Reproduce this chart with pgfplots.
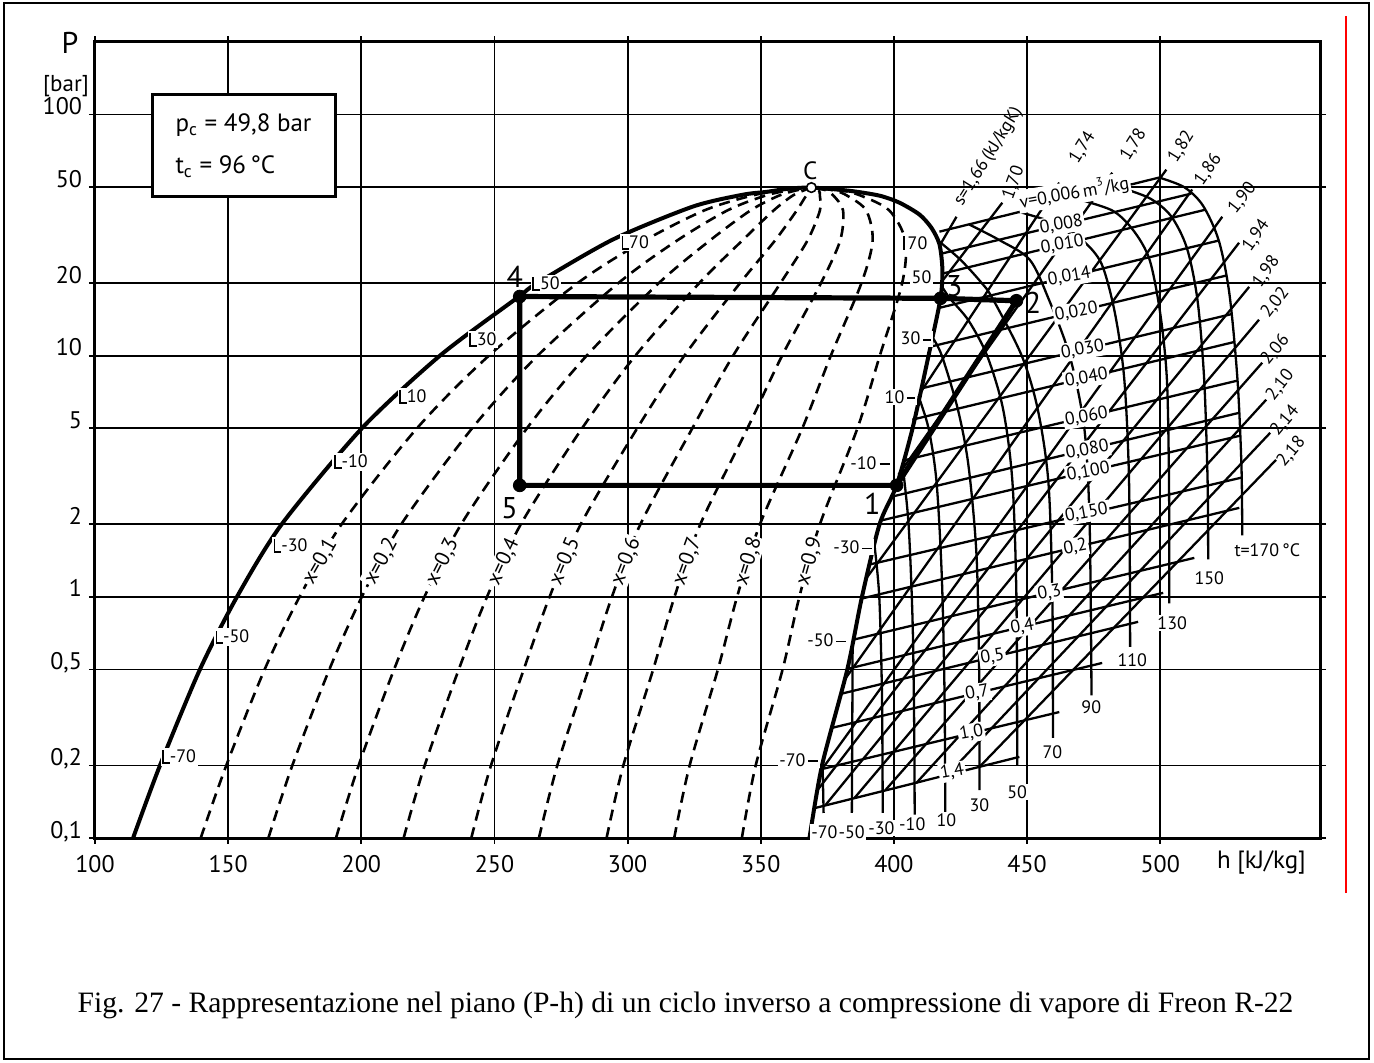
\documentclass[border=0pt]{standalone}
\usepackage{fontspec}
\setmainfont{Liberation Serif}
\newfontfamily\din{PT Sans}
\usepackage{pgfplots}
\pgfplotsset{compat=1.18}
\newcommand{\Ltick}{\rule[-0.15ex]{0.8pt}{1.5ex}\rule[-0.15ex]{3pt}{0.8pt}}
\tikzset{
  sat/.style={line width=2pt, smooth, tension=0.45},
  qual/.style={line width=1.3pt, dash pattern=on 5.5pt off 3.5pt, smooth},
  msh/.style={line width=1.15pt},
  iso/.style={line width=1.15pt, smooth, tension=0.5},
  lab/.style={font=\din\fontsize{9}{9}\selectfont, inner sep=0.8pt, fill=white},
  labx/.style={font=\din\fontsize{10.5}{10.5}\selectfont, inner sep=0.8pt, fill=white},
  labn/.style={font=\din\fontsize{9}{9}\selectfont, inner sep=0.8pt},
  cyc/.style={font=\din\fontsize{15}{15}\selectfont, inner sep=0pt},
}
\begin{document}
\begin{tikzpicture}[x=1pt,y=1pt]
\path[use as bounding box] (0,0) rectangle (687,531);
\begin{axis}[
  at={(47.5pt,112pt)}, anchor=south west, scale only axis,
  width=612.5pt, height=398pt,
  xmin=100, xmax=560, ymin=0.1, ymax=200, ymode=log, clip=false,
  axis line style={line width=1.5pt},
  xtick={100,150,200,250,300,350,400,450,500},
  xticklabels={100,150,200,250,300,350,400,450,500},
  ytick={0.1,0.2,0.5,1,2,5,10,20,50,100},
  yticklabels={{0,1},{0,2},{0,5},1,2,5,10,20,50,100},
  xminorticks=false, yminorticks=false,
  xmajorgrids, ymajorgrids,
  major grid style={line width=0.9pt, black},
  tick align=outside, major tick length=3pt,
  tick style={black, line width=0.9pt},
  ticklabel style={font=\din\fontsize{12}{12}\selectfont},
  xticklabel style={anchor=north, yshift=-2pt},
  yticklabel style={anchor=base east},
]
% saturation curve
\addplot[sat] coordinates {(114.3,0.1)(124.4,0.2)(139.4,0.5)(153.3,1)(170.1,2)(200.2,5)(229.5,10)(258.9,17.5)(266,20)(294.4,30.3)(324.4,41.5)(343.2,46.5)(352.2,47.8)(360,49.2)(369,49.8)(383.3,48.3)(394.6,46.1)(402.1,43.1)(409.6,38.5)(414.1,33.9)(417.1,29.0)(418.2,22.8)(417.5,17.3)(413,10)(407,5)(401,2.9)(394.6,2)(388,1)(382.5,0.5)(373,0.2)(368.3,0.1)};
% quality lines
\addplot[qual] coordinates {(139.7,0.1)(149.3,0.2)(163.7,0.5)(176.8,1)(192.6,2)(220.9,5)(247.9,10)(281.2,20)(306.3,30)(328.7,40)(346.2,46)(357.8,48.5)(369,49.8)};
\addplot[qual] coordinates {(165.1,0.1)(174.1,0.2)(188.0,0.5)(200.2,1)(215.0,2)(241.6,5)(266.2,10)(296.5,20)(318.5,30)(337.4,40)(351.4,46)(360.6,48.5)(369,49.8)};
\addplot[qual] coordinates {(190.5,0.1)(199.0,0.2)(212.3,0.5)(223.7,1)(237.5,2)(262.2,5)(284.6,10)(311.7,20)(330.8,30)(346.1,40)(356.6,46)(363.4,48.5)(369,49.8)};
\addplot[qual] coordinates {(215.9,0.1)(223.8,0.2)(236.6,0.5)(247.2,1)(259.9,2)(282.9,5)(302.9,10)(326.9,20)(343.0,30)(354.8,40)(361.8,46)(366.2,48.5)(369,49.8)};
\addplot[qual] coordinates {(241.3,0.1)(248.7,0.2)(261.0,0.5)(270.7,1)(282.4,2)(303.6,5)(321.3,10)(342.2,20)(355.3,30)(363.5,40)(367.0,46)(369.0,48.5)(369,49.8)};
\addplot[qual] coordinates {(266.7,0.1)(273.6,0.2)(285.3,0.5)(294.1,1)(304.8,2)(324.3,5)(339.6,10)(357.4,20)(367.5,30)(372.2,40)(372.2,46)(371.8,48.5)(369,49.8)};
\addplot[qual] coordinates {(292.1,0.1)(298.4,0.2)(309.6,0.5)(317.6,1)(327.3,2)(345.0,5)(358.0,10)(372.6,20)(379.8,30)(380.9,40)(377.4,46)(374.6,48.5)(369,49.8)};
\addplot[qual] coordinates {(317.5,0.1)(323.3,0.2)(333.9,0.5)(341.1,1)(349.7,2)(365.6,5)(376.3,10)(387.8,20)(392.0,30)(389.6,40)(382.6,46)(377.4,48.5)(369,49.8)};
\addplot[qual] coordinates {(342.9,0.1)(348.1,0.2)(358.2,0.5)(364.5,1)(372.2,2)(386.3,5)(394.7,10)(403.1,20)(404.3,30)(398.3,40)(387.8,46)(380.2,48.5)(369,49.8)};
% isotherms (superheated vapour)
\addplot[iso] coordinates {(373.2,0.205)(373.6,0.127)};
\addplot[iso] coordinates {(384.5,0.645)(384.4,0.35)(384.2,0.127)};
\addplot[iso] coordinates {(392.7,1.64)(394.5,1.0)(395.5,0.4)(395.8,0.127)};
\addplot[iso] coordinates {(403.2,3.55)(405.5,2)(407,0.8)(407.6,0.3)(407.8,0.125)};
\addplot[iso] coordinates {(409.2,6.8)(413,5)(416,3)(418,1.2)(419,0.4)(419.3,0.125)};
\addplot[iso] coordinates {(414.5,11.9)(418,10)(424,6)(428,3.5)(431,1.5)(432,0.5)(432.1,0.158)};
\addplot[iso] coordinates {(418,19.4)(421,17.3)(428,14)(435,10)(441,6)(444.5,3)(446,1)(446.3,0.2)};
\addplot[iso] coordinates {(417.1,29.7)(425,25)(433,20)(437,17.3)(448,10)(454,6)(458,3)(459.5,1)(459.7,0.26)};
\addplot[iso] coordinates {(428.3,35)(440,30)(451,25)(458,17.3)(466,10)(471.5,5)(473.5,2)(474.2,0.39)};
\addplot[iso] coordinates {(447,39.5)(462,35)(471,30)(478,24)(483,15)(486.5,8)(488.3,3)(488.7,0.62)};
\addplot[iso] coordinates {(467.7,45)(482,40)(490,33)(496,25)(500,15)(502.5,8)(503.3,3)(503.4,0.94)};
\addplot[iso] coordinates {(484.6,50)(496,45)(504,38)(510,28)(514,17)(516.5,8)(517.8,3)(518,1.43)};
\addplot[iso] coordinates {(499.6,54.8)(509,50)(516,42)(522,30)(526,18)(529,8)(530.5,3.5)(530.8,1.8)};
% isochores
\addplot[msh] coordinates {(417.1,32.7)(499.6,54.8)};
\addplot[msh] coordinates {(417.8,26.5)(511.6,47.0)};
\addplot[msh] coordinates {(418.2,21.9)(516.9,40.3)};
\addplot[msh] coordinates {(417.1,15.8)(521.8,30.0)};
\addplot[msh] coordinates {(413.7,10.9)(524.8,21.5)};
\addplot[msh] coordinates {(409.9,7.30)(527.0,14.9)};
\addplot[msh] coordinates {(406.9,5.43)(527.8,11.4)};
\addplot[msh] coordinates {(403.2,3.67)(528.9,7.88)};
\addplot[msh] coordinates {(399.0,2.60)(529.7,5.80)};
\addplot[msh] coordinates {(394.9,2.07)(530.0,4.66)};
\addplot[msh] coordinates {(390.4,1.358)(530.4,3.12)};
\addplot[msh] coordinates {(387.4,0.981)(529.7,2.34)};
\addplot[msh] coordinates {(384.4,0.663)(512.8,1.451)};
\addplot[msh] coordinates {(382.6,0.503)(501.1,1.039)};
\addplot[msh] coordinates {(380.0,0.396)(491.7,0.788)};
\addplot[msh] coordinates {(376.6,0.286)(478.2,0.532)};
\addplot[msh] coordinates {(372.8,0.193)(462.1,0.333)};
\addplot[msh] coordinates {(370.2,0.133)(447.1,0.217)};
% isentropes
\addplot[msh] coordinates {(417.4,28.9)(423.5,37.7)};
\addplot[msh] coordinates {(418.6,20.7)(440.7,43.1)};
\addplot[msh] coordinates {(409.9,7.02)(462.1,52.2)};
\addplot[msh] coordinates {(401.7,3.21)(482.0,57.4)};
\addplot[msh] coordinates {(389.3,1.18)(502.3,59.1)};
\addplot[msh] coordinates {(381.4,0.452)(512.0,48.9)};
\addplot[msh] coordinates {(372.8,0.1915)(523.3,37.7)};
\addplot[msh] coordinates {(371.3,0.158)(529.6,29.4)};
\addplot[msh] coordinates {(374.3,0.137)(533.4,19.3)};
\addplot[msh] coordinates {(385.2,0.1466)(537.1,14.1)};
\addplot[msh] coordinates {(396.8,0.158)(538.3,9.35)};
\addplot[msh] coordinates {(408.4,0.169)(539.8,6.57)};
\addplot[msh] coordinates {(420.1,0.1825)(541.3,4.79)};
\addplot[msh] coordinates {(432.1,0.197)(543.5,3.70)};
% cycle
\addplot[line width=2.6pt, line join=round] coordinates {(259.5,17.6)(417.5,17.3)(446,16.9)(401,2.9)(259.5,2.9)(259.5,17.6)};
\addplot[only marks, mark=*, mark size=3.2pt] coordinates {(259.5,17.6)(417.5,17.3)(446,16.9)(401,2.9)(259.5,2.9)};
\addplot[only marks, mark=*, mark size=2.4pt, mark options={fill=white, draw=black, line width=0.8pt}] coordinates {(369,49.8)};
% labels: quality
\node[labx, rotate=60] at (axis cs:184.5,1.4) {x=0,1};
\node[labx, rotate=61.5] at (axis cs:207.4,1.4) {x=0,2};
\node[labx, rotate=63] at (axis cs:230.4,1.4) {x=0,3};
\node[labx, rotate=65] at (axis cs:253.4,1.4) {x=0,4};
\node[labx, rotate=67] at (axis cs:276.4,1.4) {x=0,5};
\node[labx, rotate=68.5] at (axis cs:299.3,1.4) {x=0,6};
\node[labx, rotate=70] at (axis cs:322.3,1.4) {x=0,7};
\node[labx, rotate=72.5] at (axis cs:345.3,1.4) {x=0,8};
\node[labx, rotate=74] at (axis cs:368.2,1.4) {x=0,9};
% labels: liquid side temperatures
\node[lab, anchor=west] at (axis cs:124.5,0.217) {\Ltick-70};
\node[lab, anchor=west] at (axis cs:144.5,0.682) {\Ltick-50};
\node[lab, anchor=west] at (axis cs:166.4,1.628) {\Ltick-30};
\node[lab, anchor=west] at (axis cs:189.0,3.63) {\Ltick-10};
\node[lab, anchor=west] at (axis cs:213.5,6.76) {\Ltick 10};
\node[lab, anchor=west] at (axis cs:239.8,11.65) {\Ltick 30};
\node[lab, anchor=west] at (axis cs:263.5,19.9) {\Ltick 50};
\node[lab, anchor=west] at (axis cs:297.0,29.4) {\Ltick 70};
% labels: vapour side temperatures
\node[lab, anchor=east] at (axis cs:372.4,0.211) {-70\,\rule[0.45ex]{5pt}{0.8pt}};
\node[lab, anchor=east] at (axis cs:382.9,0.663) {-50\,\rule[0.45ex]{5pt}{0.8pt}};
\node[lab, anchor=east] at (axis cs:392.7,1.61) {-30\,\rule[0.45ex]{5pt}{0.8pt}};
\node[lab, anchor=east] at (axis cs:399.1,3.60) {-10\,\rule[0.45ex]{5pt}{0.8pt}};
\node[lab, anchor=east] at (axis cs:408.8,6.76) {10\,\rule[0.45ex]{4pt}{0.8pt}};
\node[lab, anchor=east] at (axis cs:414.8,11.77) {30\,\rule[0.45ex]{4pt}{0.8pt}};
\node[lab, anchor=east] at (axis cs:414.8,21.1) {50};
\node[lab, anchor=east] at (axis cs:413.3,29.4) {\rule[-0.1ex]{0.8pt}{1.6ex}\,70};
% labels: isotherms bottom
\node[lab] at (axis cs:373.9,0.106) {-70};
\node[lab] at (axis cs:384.1,0.106) {-50};
\node[lab] at (axis cs:395.3,0.110) {-30};
\node[lab] at (axis cs:406.9,0.1143) {-10};
\node[lab] at (axis cs:419.7,0.119) {10};
\node[lab] at (axis cs:432.1,0.137) {30};
\node[lab] at (axis cs:446.3,0.155) {50};
\node[lab] at (axis cs:459.5,0.2275) {70};
\node[lab] at (axis cs:474.1,0.350) {90};
\node[lab] at (axis cs:489.5,0.548) {110};
\node[lab] at (axis cs:504.5,0.780) {130};
\node[lab] at (axis cs:518.4,1.199) {150};
\node[lab] at (axis cs:540.2,1.567) {t=170\,°C};
% labels: isochores
\node[lab, rotate=10] at (axis cs:467.7,47.5) {v=0,006\,m\textsuperscript{3}/kg};
\node[lab, rotate=10] at (axis cs:462.9,34.97) {0,008};
\node[lab, rotate=10] at (axis cs:463.2,28.9) {0,010};
\node[lab, rotate=10] at (axis cs:465.9,21.3) {0,014};
\node[lab, rotate=10] at (axis cs:468.5,15.2) {0,020};
\node[lab, rotate=10] at (axis cs:470.8,10.6) {0,030};
\node[lab, rotate=10] at (axis cs:472.3,8.10) {0,040};
\node[lab, rotate=10] at (axis cs:472.3,5.58) {0,060};
\node[lab, rotate=10] at (axis cs:472.6,4.07) {0,080};
\node[lab, rotate=10] at (axis cs:473.0,3.30) {0,100};
\node[lab, rotate=10] at (axis cs:472.3,2.23) {0,150};
\node[lab, rotate=10] at (axis cs:468.1,1.61) {0,2};
\node[lab, rotate=10] at (axis cs:458.4,1.039) {0,3};
\node[lab, rotate=10] at (axis cs:448.2,0.751) {0,4};
\node[lab, rotate=10] at (axis cs:437.0,0.564) {0,5};
\node[lab, rotate=10] at (axis cs:431.3,0.400) {0,7};
\node[lab, rotate=10] at (axis cs:429.1,0.273) {1,0};
\node[lab, rotate=10] at (axis cs:421.9,0.188) {1,4};
% labels: isentropes
\node[labn, rotate=58] at (axis cs:435.5,66.9) {s=1,66\,(kJ/kgK)};
\node[labn, rotate=70] at (axis cs:444.9,52.2) {1,70};
\node[labn, rotate=58] at (axis cs:470.8,73.0) {1,74};
\node[labn, rotate=58] at (axis cs:489.9,75.1) {1,78};
\node[labn, rotate=58] at (axis cs:507.9,73.7) {1,82};
\node[labn, rotate=55] at (axis cs:518.0,59.1) {1,86};
\node[labn, rotate=52] at (axis cs:530.8,45.2) {1,90};
\node[labn, rotate=55] at (axis cs:536.0,31.5) {1,94};
\node[labn, rotate=55] at (axis cs:539.8,22.3) {1,98};
\node[labn, rotate=52] at (axis cs:543.2,16.6) {2,02};
\node[labn, rotate=50] at (axis cs:543.2,10.6) {2,06};
\node[labn, rotate=52] at (axis cs:545.0,7.58) {2,10};
\node[labn, rotate=50] at (axis cs:546.9,5.37) {2,14};
\node[labn, rotate=50] at (axis cs:549.2,4.00) {2,18};
% cycle labels
\node[cyc] at (axis cs:257.6,21.3) {4};
\node[cyc] at (axis cs:255.7,2.33) {5};
\node[cyc] at (axis cs:391.9,2.43) {1};
\node[cyc] at (axis cs:422.7,19.5) {3};
\node[cyc] at (axis cs:452.2,16.6) {2};
\node[font=\din\fontsize{12.5}{12.5}\selectfont, inner sep=0pt] at (axis cs:368.6,58.6) {C};
\node[font=\din\fontsize{12.5}{12.5}\selectfont, anchor=north, inner sep=0pt] at (axis cs:538,0.1) [yshift=-6pt] {h [kJ/kg]};
\end{axis}
\node[font=\din\fontsize{15}{15}\selectfont] at (35,509.5) {P};
\node[font=\din\fontsize{11.5}{11.5}\selectfont] at (33,488) {[bar]};
\node[draw, line width=1.5pt, fill=white, minimum width=91.5pt, minimum height=51pt, font=\din\fontsize{12.5}{21}\selectfont, align=left] at (121.75,458) {p\textsubscript{c} = 49,8 bar\\t\textsubscript{c} = 96\,°C};
\draw[line width=1.2pt] (2,1.5) rectangle (684.5,529.5);
\draw[red, line width=0.6pt] (673,84.5) -- (673,523);
\node[anchor=base, font=\fontsize{14.8}{15}\selectfont] at (342.75,25) {Fig. 27 - Rappresentazione nel piano (P-h) di un ciclo inverso a compressione di vapore di Freon R-22};
\end{tikzpicture}
\end{document}
